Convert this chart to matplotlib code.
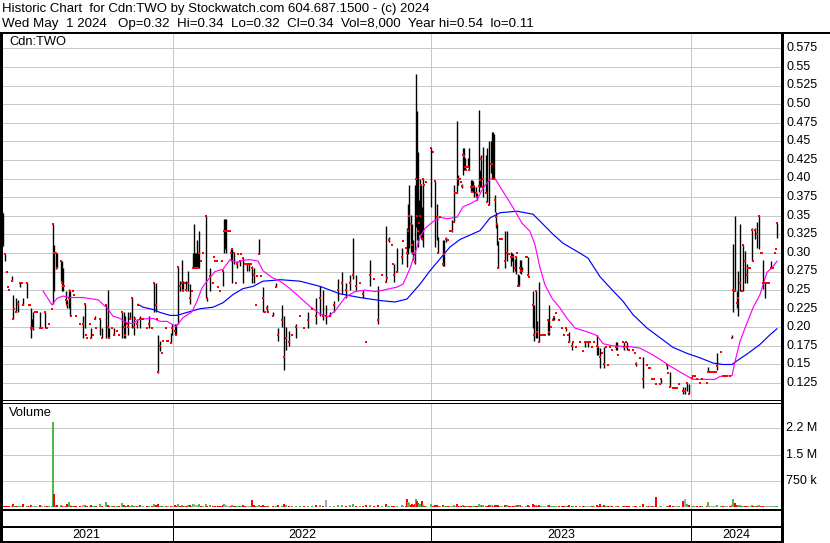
import matplotlib
matplotlib.use('Agg')
import matplotlib.pyplot as plt
import numpy as np

W, H = 830, 543
plt.rcParams['font.family'] = ['Liberation Sans', 'DejaVu Sans']

title1 = 'Historic Chart  for Cdn:TWO by Stockwatch.com 604.687.1500 - (c) 2024'
title2 = 'Wed May  1 2024   Op=0.32  Hi=0.34  Lo=0.32  Cl=0.34  Vol=8,000  Year hi=0.54  lo=0.11'

years = ['2021', '2022', '2023', '2024']
year_start = [0, 173, 431, 691]   # trading-day index where each year begins
last_day = 781

price_ticks = [0.575, 0.55, 0.525, 0.50, 0.475, 0.45, 0.425, 0.40, 0.375, 0.35,
               0.325, 0.30, 0.275, 0.25, 0.225, 0.20, 0.175, 0.15, 0.125]
price_labels = ['0.575', '0.55', '0.525', '0.50', '0.475', '0.45', '0.425', '0.40', '0.375', '0.35',
                '0.325', '0.30', '0.275', '0.25', '0.225', '0.20', '0.175', '0.15', '0.125']
vol_ticks = [750e3, 1.5e6, 2.25e6]
vol_labels = ['750 k', '1.5 M', '2.2 M']

# daily bars: trading-day index, high, low, close, volume (thousands)
day = [
    2, 3, 5, 7, 8, 9, 12, 13, 14, 16,
    18, 20, 22, 23, 27, 29, 30, 31, 32, 33,
    35, 37, 40, 42, 45, 47, 49, 52, 53, 54,
    56, 57, 61, 62, 63, 64, 66, 67, 69, 70,
    71, 73, 74, 76, 80, 83, 85, 86, 87, 90,
    91, 93, 95, 96, 100, 102, 106, 108, 109, 112,
    114, 117, 119, 122, 124, 125, 127, 128, 130, 132,
    134, 135, 137, 138, 140, 141, 142, 143, 147, 149,
    152, 154, 156, 157, 158, 160, 162, 163, 166, 167,
    168, 171, 172, 175, 176, 178, 180, 182, 183, 185,
    186, 188, 190, 192, 193, 194, 195, 196, 197, 198,
    199, 201, 203, 206, 207, 210, 213, 214, 215, 217,
    218, 220, 222, 223, 224, 225, 226, 228, 230, 231,
    232, 234, 236, 237, 238, 240, 241, 243, 245, 247,
    249, 251, 252, 254, 256, 257, 259, 261, 263, 265,
    267, 268, 273, 276, 278, 282, 284, 286, 289, 292,
    296, 300, 304, 308, 312, 316, 320, 323, 326, 330,
    334, 338, 342, 346, 350, 353, 356, 360, 363, 366,
    370, 374, 378, 382, 386, 387, 389, 392, 393, 394,
    397, 402, 403, 406, 407, 408, 409, 411, 412, 413,
    415, 416, 417, 418, 419, 420, 421, 422, 423, 424,
    426, 431, 433, 435, 437, 438, 440, 443, 444, 446,
    448, 450, 452, 454, 455, 457, 458, 459, 460, 461,
    462, 463, 464, 465, 466, 467, 468, 469, 471, 472,
    473, 474, 476, 477, 479, 480, 481, 482, 483, 486,
    487, 489, 491, 492, 493, 494, 495, 496, 497, 498,
    500, 502, 505, 507, 509, 511, 512, 513, 515, 516,
    517, 518, 519, 520, 521, 522, 526, 527, 528, 529,
    533, 534, 536, 537, 539, 541, 543, 545, 548, 549,
    551, 553, 554, 556, 559, 562, 564, 566, 568, 569,
    572, 573, 576, 580, 583, 585, 586, 588, 590, 592,
    594, 597, 598, 600, 602, 604, 606, 608, 610, 612,
    616, 617, 618, 623, 624, 626, 627, 629, 633, 635,
    636, 640, 643, 647, 649, 650, 652, 654, 656, 660,
    661, 667, 668, 670, 673, 675, 677, 679, 683, 685,
    687, 689, 692, 693, 695, 697, 700, 702, 707, 708,
    710, 712, 714, 716, 717, 721, 723, 725, 727, 730,
    732, 733, 735, 737, 738, 740, 742, 743, 745, 747,
    748, 750, 752, 753, 755, 757, 759, 761, 762, 763,
    765, 767, 769, 771, 772, 773, 775, 776, 777,
]
high = [
    .356, .354, .299, .275, .254, .250, .269, .244, .225, .240,
    .237, .260, .260, .240, .260, .230, .230, .226, .211, .220,
    .220, .220, .220, .199, .220, .199, .205, .225, .339, .311,
    .300, .300, .289, .289, .280, .255, .249, .237, .251, .249,
    .215, .249, .244, .215, .205, .215, .231, .190, .185, .205,
    .199, .190, .215, .199, .211, .199, .230, .250, .199, .199,
    .199, .195, .190, .220, .220, .215, .205, .220, .220, .240,
    .215, .211, .211, .230, .215, .211, .211, .211, .199, .215,
    .199, .260, .260, .211, .190, .181, .166, .181, .199, .181,
    .181, .193, .204, .204, .204, .281, .262, .290, .262, .260,
    .262, .276, .258, .249, .300, .339, .300, .300, .318, .300,
    .330, .289, .300, .349, .240, .280, .260, .294, .289, .289,
    .254, .249, .289, .276, .345, .345, .345, .330, .330, .305,
    .305, .300, .260, .289, .299, .289, .299, .293, .285, .285,
    .285, .285, .282, .280, .230, .269, .319, .269, .254, .220,
    .230, .220, .220, .260, .199, .230, .215, .200, .195, .190,
    .205, .215, .199, .220, .225, .240, .255, .250, .230, .220,
    .235, .265, .275, .260, .270, .320, .270, .260, .250, .180,
    .290, .265, .255, .270, .336, .266, .321, .311, .285, .285,
    .306, .306, .316, .306, .333, .366, .391, .351, .339, .317,
    .391, .541, .491, .436, .371, .400, .391, .362, .400, .391,
    .395, .441, .435, .396, .366, .321, .348, .317, .317, .321,
    .317, .330, .344, .391, .381, .477, .405, .399, .400, .395,
    .393, .441, .441, .427, .411, .415, .427, .441, .398, .398,
    .397, .390, .389, .380, .492, .411, .432, .389, .443, .431,
    .441, .451, .451, .462, .462, .460, .378, .355, .339, .316,
    .319, .319, .330, .330, .299, .301, .300, .299, .292, .294,
    .300, .271, .270, .290, .291, .281, .294, .295, .294, .268,
    .249, .230, .249, .208, .261, .189, .189, .189, .210, .230,
    .200, .214, .214, .219, .210, .199, .189, .199, .189, .194,
    .180, .180, .174, .180, .168, .180, .180, .180, .180, .174,
    .180, .189, .174, .172, .165, .174, .174, .149, .174, .169,
    .180, .180, .163, .180, .180, .180, .180, .169, .169, .165,
    .154, .159, .160, .149, .145, .145, .130, .130, .124, .124,
    .130, .149, .139, .140, .119, .119, .119, .124, .120, .120,
    .125, .124, .132, .135, .135, .130, .125, .130, .125, .146,
    .140, .140, .140, .140, .166, .167, .135, .135, .135, .134,
    .190, .312, .350, .249, .276, .339, .249, .310, .303, .285,
    .280, .280, .334, .289, .334, .341, .350, .300, .300, .290,
    .260, .260, .260, .289, .280, .280, .300, .305, .340,
]
low = [
    .354, .309, .289, .275, .254, .250, .262, .211, .225, .220,
    .220, .254, .260, .230, .240, .230, .230, .186, .199, .197,
    .220, .220, .199, .199, .199, .199, .205, .225, .231, .249,
    .278, .280, .262, .249, .249, .255, .231, .226, .226, .215,
    .215, .249, .244, .215, .205, .186, .199, .190, .185, .205,
    .185, .190, .211, .199, .190, .185, .186, .186, .185, .199,
    .190, .195, .190, .186, .186, .186, .205, .190, .211, .199,
    .190, .211, .199, .230, .199, .211, .211, .211, .199, .199,
    .199, .220, .220, .211, .139, .168, .166, .181, .199, .181,
    .181, .179, .190, .190, .190, .204, .249, .249, .249, .260,
    .249, .249, .231, .249, .280, .280, .280, .280, .280, .280,
    .280, .289, .300, .240, .235, .249, .260, .294, .289, .289,
    .254, .249, .289, .255, .300, .305, .300, .330, .330, .289,
    .260, .285, .260, .280, .299, .283, .299, .260, .285, .276,
    .276, .285, .260, .260, .230, .269, .299, .269, .220, .220,
    .220, .220, .215, .254, .181, .200, .142, .170, .175, .190,
    .185, .215, .199, .199, .225, .205, .215, .210, .205, .215,
    .220, .235, .245, .240, .250, .265, .250, .260, .240, .180,
    .255, .265, .205, .270, .261, .266, .315, .311, .285, .261,
    .275, .285, .316, .306, .281, .299, .306, .301, .299, .290,
    .285, .335, .317, .308, .324, .326, .319, .317, .308, .391,
    .395, .362, .435, .308, .317, .300, .348, .283, .283, .315,
    .317, .330, .328, .342, .381, .380, .391, .399, .400, .395,
    .387, .405, .411, .411, .411, .415, .415, .411, .382, .382,
    .382, .375, .375, .371, .382, .389, .389, .389, .375, .381,
    .369, .364, .407, .400, .400, .400, .355, .334, .310, .280,
    .319, .319, .280, .289, .299, .283, .289, .275, .276, .272,
    .300, .255, .255, .273, .272, .276, .294, .294, .270, .268,
    .199, .181, .185, .185, .180, .189, .189, .189, .190, .190,
    .200, .210, .210, .219, .210, .199, .189, .195, .189, .180,
    .169, .180, .174, .180, .168, .174, .180, .174, .180, .174,
    .180, .163, .163, .145, .165, .145, .174, .149, .174, .169,
    .169, .169, .163, .180, .169, .180, .169, .169, .169, .165,
    .148, .159, .119, .149, .145, .145, .130, .130, .124, .124,
    .125, .144, .139, .120, .119, .119, .119, .124, .110, .110,
    .115, .110, .132, .135, .135, .130, .125, .130, .125, .140,
    .140, .140, .140, .140, .143, .167, .135, .135, .135, .134,
    .186, .220, .249, .226, .215, .249, .249, .249, .260, .260,
    .280, .280, .289, .289, .319, .307, .305, .300, .300, .251,
    .240, .260, .260, .280, .280, .280, .300, .305, .320,
]
close = [
    .354, .309, .299, .275, .254, .250, .262, .211, .225, .220,
    .231, .260, .260, .230, .260, .230, .230, .199, .199, .199,
    .220, .220, .199, .199, .220, .199, .205, .225, .339, .300,
    .300, .280, .289, .260, .255, .255, .237, .230, .240, .249,
    .215, .249, .244, .215, .205, .205, .231, .190, .185, .205,
    .185, .190, .211, .199, .211, .185, .230, .200, .185, .199,
    .190, .195, .190, .220, .200, .190, .205, .200, .211, .240,
    .200, .211, .205, .230, .211, .211, .211, .211, .199, .205,
    .199, .260, .230, .211, .140, .175, .166, .181, .199, .181,
    .181, .179, .199, .195, .190, .281, .255, .260, .250, .260,
    .250, .260, .240, .249, .280, .280, .280, .280, .280, .280,
    .300, .289, .300, .349, .240, .269, .260, .294, .289, .289,
    .254, .249, .289, .276, .330, .330, .330, .330, .330, .300,
    .305, .300, .260, .285, .299, .289, .299, .293, .285, .285,
    .285, .285, .280, .270, .230, .269, .299, .269, .240, .220,
    .226, .220, .215, .254, .190, .210, .160, .185, .180, .190,
    .200, .215, .199, .210, .225, .215, .240, .215, .215, .215,
    .230, .250, .260, .250, .260, .270, .255, .260, .245, .180,
    .270, .265, .210, .270, .261, .266, .317, .311, .285, .270,
    .275, .294, .316, .306, .300, .330, .350, .339, .310, .300,
    .288, .400, .350, .330, .340, .350, .391, .319, .400, .391,
    .395, .441, .435, .396, .348, .300, .348, .285, .299, .319,
    .317, .330, .330, .342, .381, .380, .400, .399, .400, .395,
    .390, .432, .430, .416, .411, .415, .416, .411, .389, .382,
    .389, .390, .380, .375, .390, .398, .426, .389, .400, .381,
    .369, .365, .420, .420, .400, .400, .371, .348, .339, .280,
    .319, .319, .289, .300, .299, .295, .295, .294, .280, .294,
    .300, .255, .255, .280, .276, .276, .294, .294, .270, .268,
    .230, .190, .249, .194, .180, .189, .189, .189, .210, .194,
    .200, .210, .214, .219, .210, .199, .189, .199, .189, .180,
    .175, .180, .174, .180, .168, .180, .180, .180, .180, .174,
    .180, .175, .174, .160, .165, .150, .174, .149, .174, .169,
    .174, .174, .163, .180, .174, .180, .174, .169, .169, .165,
    .150, .159, .130, .149, .145, .145, .130, .130, .124, .124,
    .130, .149, .139, .120, .119, .119, .119, .124, .115, .115,
    .125, .110, .132, .135, .135, .130, .125, .130, .125, .140,
    .140, .140, .140, .140, .148, .167, .135, .135, .135, .134,
    .186, .250, .249, .233, .240, .260, .249, .310, .289, .270,
    .280, .280, .331, .289, .331, .325, .350, .300, .300, .260,
    .260, .260, .260, .280, .280, .280, .300, .305, .340,
]
volume_k = [
    40, 30, 20, 25, 30, 15, 30, 90, 20, 40,
    35, 30, 15, 90, 40, 20, 20, 60, 30, 40,
    15, 20, 60, 20, 40, 25, 30, 20, 2440, 360,
    60, 50, 70, 40, 40, 20, 30, 80, 134, 50,
    20, 30, 20, 30, 20, 60, 70, 30, 40, 20,
    50, 20, 40, 20, 76, 30, 134, 60, 40, 20,
    40, 20, 30, 105, 60, 40, 20, 50, 30, 60,
    40, 20, 30, 40, 50, 20, 20, 20, 30, 40,
    20, 80, 60, 20, 76, 40, 20, 20, 30, 20,
    20, 40, 40, 50, 30, 90, 40, 60, 40, 20,
    40, 50, 60, 20, 80, 90, 60, 40, 70, 50,
    90, 20, 30, 100, 40, 60, 20, 40, 20, 20,
    30, 20, 40, 50, 80, 60, 50, 20, 20, 40,
    60, 40, 30, 40, 20, 30, 20, 50, 20, 30,
    30, 20, 200, 60, 30, 20, 70, 20, 60, 20,
    40, 20, 30, 40, 60, 40, 90, 60, 40, 20,
    40, 20, 30, 20, 40, 60, 50, 40, 200, 30,
    40, 50, 60, 40, 50, 80, 40, 20, 40, 50,
    60, 20, 50, 40, 90, 20, 40, 20, 20, 40,
    40, 50, 20, 20, 237, 150, 120, 60, 80, 70,
    90, 225, 180, 120, 90, 80, 60, 180, 60, 20,
    20, 80, 20, 60, 70, 40, 20, 60, 40, 30,
    20, 20, 40, 60, 20, 90, 40, 20, 20, 20,
    30, 50, 40, 40, 20, 20, 40, 40, 40, 30,
    30, 40, 40, 30, 80, 40, 60, 20, 60, 40,
    40, 60, 60, 70, 40, 40, 50, 40, 50, 70,
    20, 20, 70, 50, 20, 40, 30, 40, 40, 50,
    20, 60, 40, 50, 40, 20, 20, 20, 50, 20,
    90, 60, 60, 40, 70, 20, 20, 20, 50, 60,
    20, 40, 30, 20, 20, 30, 20, 30, 20, 50,
    40, 20, 20, 20, 20, 40, 20, 40, 20, 20,
    20, 60, 30, 80, 20, 60, 20, 20, 20, 20,
    40, 30, 20, 20, 40, 20, 40, 20, 20, 20,
    40, 20, 90, 30, 20, 20, 40, 20, 286, 20,
    40, 40, 20, 60, 20, 20, 20, 20, 171, 229,
    86, 60, 40, 20, 20, 20, 20, 20, 30, 134,
    20, 20, 20, 20, 60, 20, 20, 20, 20, 20,
    60, 229, 120, 48, 60, 60, 20, 40, 40, 30,
    20, 20, 50, 20, 40, 40, 60, 20, 20, 40,
    40, 20, 20, 30, 20, 20, 20, 30, 20,
]

# moving averages
ma_fast_day = [43, 52, 57, 63, 70, 83, 98, 107, 113, 120, 125, 132, 140, 153, 160, 167, 176, 183, 192, 197,
               202, 207, 215, 223, 230, 237, 243, 250, 258, 263, 272, 280, 290, 300, 310, 320, 328, 335, 345, 355,
               365, 375, 380, 390, 397, 403, 410, 417, 420, 425, 433, 440, 447, 457, 463, 470, 477, 483, 490, 495,
               500, 507, 513, 522, 530, 535, 540, 545, 552, 560, 567, 575, 587, 597, 603, 613, 630, 640, 650, 660,
               670, 680, 693, 703, 715, 720, 732, 735, 740, 747, 753, 760, 767, 772, 777]
ma_fast = [.249, .230, .239, .242, .240, .240, .237, .226, .215, .212, .207, .205, .211, .212, .208, .208, .201, .213, .221, .235,
           .253, .262, .275, .278, .291, .287, .290, .291, .289, .276, .267, .262, .252, .240, .228, .218, .214, .222, .240, .248,
           .250, .248, .249, .252, .254, .258, .279, .308, .321, .333, .342, .348, .346, .348, .362, .366, .371, .387, .399, .400,
           .389, .374, .361, .340, .329, .311, .280, .257, .239, .226, .212, .199, .194, .189, .178, .175, .174, .172, .165, .157,
           .148, .140, .130, .130, .130, .134, .135, .154, .181, .206, .226, .244, .274, .280, .289]
ma_slow_day = [138, 143, 153, 160, 170, 177, 187, 200, 213, 223, 233, 243, 253, 263, 273, 280, 300, 320, 340, 360,
               380, 395, 407, 420, 430, 440, 450, 460, 470, 480, 490, 500, 517, 533, 542, 553, 563, 577, 588, 600,
               613, 623, 633, 647, 660, 673, 687, 700, 713, 723, 732, 737, 747, 760, 770, 777]
ma_slow = [.231, .227, .224, .220, .216, .216, .220, .225, .227, .233, .244, .252, .255, .262, .263, .264, .262, .255, .245, .240,
           .236, .234, .238, .258, .276, .292, .308, .318, .324, .330, .347, .354, .356, .352, .340, .325, .313, .302, .293, .268,
           .249, .235, .217, .199, .186, .173, .165, .159, .152, .150, .150, .155, .164, .177, .190, .198]

GRID = '#c8c8c8'
PX = 0.72  # one pixel in points at dpi 100


def box(x0, y0, x1, y1):
    return [x0 / W, 1 - y1 / H, (x1 - x0) / W, (y1 - y0) / H]


fig = plt.figure(figsize=(W / 100, H / 100), dpi=100)

# price panel
ax = fig.add_axes(box(0, 33, last_day, 400.5))
ax.set_xlim(0, last_day)
ax.set_ylim(0.1016, 0.5956)
ax.axis('off')
for t in price_ticks:
    ax.axhline(t, color=GRID, lw=PX, zorder=0)
for x in year_start[1:]:
    ax.axvline(x, color=GRID, lw=PX, zorder=0)
ax.vlines(day, low, high, color='black', lw=1.0, zorder=2)
ax.plot(ma_slow_day, ma_slow, color='#0000ff', lw=0.85, zorder=3)
ax.plot(ma_fast_day, ma_fast, color='#ff00ff', lw=0.85, zorder=3)
ax.plot(day, close, 's', color='#ff0000', ms=1.6, mew=0, zorder=4)

# volume panel
axv = fig.add_axes(box(0, 402.5, last_day, 509))
axv.set_xlim(0, last_day)
axv.set_ylim(-57e3, 2.99e6)
axv.axis('off')
for t in vol_ticks:
    axv.axhline(t, color=GRID, lw=PX, zorder=0)
for x in year_start[1:]:
    axv.axvline(x, color=GRID, lw=PX, zorder=0)
cl = np.array(close)
prev = np.concatenate([[cl[0]], cl[:-1]])
vcol = np.where(cl > prev, '#4cb84c', np.where(cl < prev, '#ff0000', '#a8a8a8'))
axv.bar(day, np.array(volume_k) * 1000, width=1.7, color=vcol, linewidth=0, zorder=2)

# frame lines in pixel space
fr = fig.add_axes([0, 0, 1, 1], zorder=5)
fr.set_xlim(0, W)
fr.set_ylim(H, 0)
fr.axis('off')


def hl(y, x0, x1, w):
    fr.plot([x0, x1], [y, y], color='black', lw=w * PX, solid_capstyle='butt')


def vl(x, y0, y1, w):
    fr.plot([x, x], [y0, y1], color='black', lw=w * PX, solid_capstyle='butt')


hl(33, 0, W, 2)
hl(400, 0, last_day, 1)
hl(402.5, 0, last_day, 1)
hl(510, 0, last_day, 2)
hl(527, 0, last_day, 2)
hl(542, 0, last_day, 2)
vl(1, 33, H, 3)
vl(last_day + 0.5, 33, H, 3)
for x in year_start[1:]:
    vl(x, 510, 542, 1)

# texts
def txt(x, y, s, **kw):
    fig.text(x / W, 1 - y / H, s, va='center', color='black', **kw)


txt(2, 9, title1, fontsize=9.5)
txt(2, 24, title2, fontsize=9.6)
txt(9, 42, 'Cdn:TWO', fontsize=9.3)
txt(9, 413, 'Volume', fontsize=9.3)

for t, s in zip(price_ticks, price_labels):
    y = 48.3 + (0.575 - t) / 0.025 * 18.6
    txt(786, y, s, fontsize=9)
for t, s in zip(vol_ticks, vol_labels):
    y = 507 - t / 750e3 * 26.2
    txt(786, y, s, fontsize=9)

bounds = year_start + [last_day]
for i, yr in enumerate(years):
    txt((bounds[i] + bounds[i + 1]) / 2, 535, yr, fontsize=9, ha='center')

fig.savefig('out.png', dpi=100)
